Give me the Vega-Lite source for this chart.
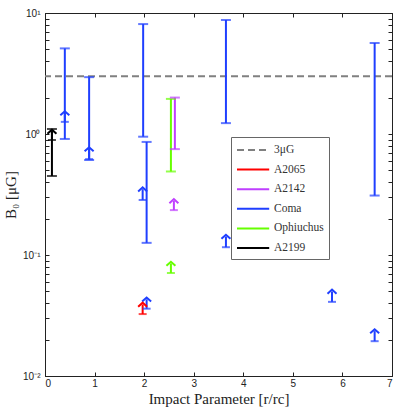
{
  "$schema": "https://vega.github.io/schema/vega-lite/v6.json",
  "width": 347,
  "height": 363,
  "autosize": {"type": "none"},
  "padding": {"left": 45, "top": 13, "right": 7, "bottom": 36},
  "background": "white",
  "config": {
    "view": {"stroke": "#222", "strokeWidth": 1},
    "axis": {
      "grid": false,
      "domainColor": "#222",
      "tickColor": "#222",
      "tickSize": -4,
      "labelFont": "Liberation Sans",
      "labelFontSize": 10,
      "labelColor": "#222",
      "titleFont": "Liberation Serif",
      "titleFontWeight": "normal",
      "titleFontSize": 15,
      "titleColor": "#222"
    }
  },
  "datasets": {
    "ref": [{"series": "3μG", "y": 3}],
    "bars": [
      {"series": "A2199", "x": 0.14, "lo": 0.45, "hi": 1.1},
      {"series": "Coma", "x": 0.4, "lo": 0.91, "hi": 5.1},
      {"series": "Coma", "x": 0.89, "lo": 0.61, "hi": 2.95},
      {"series": "Coma", "x": 1.98, "lo": 0.95, "hi": 8.1},
      {"series": "Coma", "x": 2.05, "lo": 0.126, "hi": 0.86},
      {"series": "Ophiuchus", "x": 2.54, "lo": 0.49, "hi": 1.95},
      {"series": "A2142", "x": 2.62, "lo": 0.75, "hi": 2.0},
      {"series": "Coma", "x": 3.65, "lo": 1.23, "hi": 8.75},
      {"series": "Coma", "x": 6.65, "lo": 0.31, "hi": 5.65}
    ],
    "limits": [
      {"series": "A2199", "x": 0.14, "lo": 0.89, "hi": 1.05},
      {"series": "Coma", "x": 0.4, "lo": 1.26, "hi": 1.49},
      {"series": "Coma", "x": 0.89, "lo": 0.62, "hi": 0.75},
      {"series": "Coma", "x": 1.97, "lo": 0.285, "hi": 0.35},
      {"series": "A2142", "x": 2.6, "lo": 0.235, "hi": 0.28},
      {"series": "Ophiuchus", "x": 2.54, "lo": 0.071, "hi": 0.085},
      {"series": "Coma", "x": 2.05, "lo": 0.036, "hi": 0.043},
      {"series": "A2065", "x": 1.97, "lo": 0.0325, "hi": 0.039},
      {"series": "Coma", "x": 3.65, "lo": 0.116, "hi": 0.142},
      {"series": "Coma", "x": 5.79, "lo": 0.041, "hi": 0.05},
      {"series": "Coma", "x": 6.65, "lo": 0.0194, "hi": 0.0235}
    ]
  },
  "resolve": {"axis": {"x": "independent", "y": "independent"}},
  "layer": [
    {
      "data": {"name": "ref"},
      "mark": {"type": "rule", "strokeWidth": 2},
      "encoding": {
        "y": {
          "field": "y", "type": "quantitative",
          "scale": {"type": "log", "domain": [0.01, 10], "nice": false},
          "axis": {
            "orient": "left",
            "title": "B₀ [μG]",
            "values": [0.01,0.02,0.03,0.04,0.05,0.06,0.07,0.08,0.09,0.1,0.2,0.3,0.4,0.5,0.6,0.7,0.8,0.9,1,2,3,4,5,6,7,8,9,10],
            "labelExpr": "datum.value == 10 ? '10¹' : datum.value == 1 ? '10⁰' : datum.value == 0.1 ? '10⁻¹' : datum.value == 0.01 ? '10⁻²' : ''",
            "labelOverlap": false,
            "labelPadding": 9,
            "titlePadding": 4
          }
        },
        "color": {
          "field": "series", "type": "nominal",
          "scale": {
            "domain": ["3μG", "A2065", "A2142", "Coma", "Ophiuchus", "A2199"],
            "range": ["#808080", "#ff0000", "#bf3fff", "#1f3fff", "#66ff00", "#000000"]
          },
          "legend": {
            "title": null,
            "orient": "none",
            "legendX": 186,
            "legendY": 124,
            "symbolType": "M-1,0H3.6",
            "symbolSize": 196,
            "symbolStrokeWidth": 2,
            "labelOffset": 22,
            "rowPadding": 5.6,
            "padding": 5,
            "strokeColor": "#666",
            "fillColor": "white",
            "labelFont": "Liberation Serif",
            "labelFontSize": 11.5,
            "labelColor": "#333"
          }
        },
        "strokeDash": {
          "field": "series", "type": "nominal",
          "scale": {
            "domain": ["3μG", "A2065", "A2142", "Coma", "Ophiuchus", "A2199"],
            "range": [[7, 4], [1, 0], [1, 0], [1, 0], [1, 0], [1, 0]]
          },
          "legend": {
            "title": null,
            "orient": "none",
            "legendX": 186,
            "legendY": 124,
            "symbolType": "M-1,0H3.6",
            "symbolSize": 196,
            "symbolStrokeWidth": 2,
            "labelOffset": 22,
            "rowPadding": 5.6,
            "padding": 5,
            "strokeColor": "#666",
            "fillColor": "white",
            "labelFont": "Liberation Serif",
            "labelFontSize": 11.5,
            "labelColor": "#333"
          }
        }
      }
    },
    {
      "data": {"name": "bars"},
      "mark": {"type": "rule", "strokeWidth": 2},
      "encoding": {
        "x": {
          "field": "x", "type": "quantitative",
          "scale": {"domain": [0, 7], "nice": false},
          "axis": {
            "orient": "bottom",
            "title": "Impact Parameter [r/rc]",
            "values": [0, 1, 2, 3, 4, 5, 6, 7],
            "labelPadding": 6,
            "titlePadding": 3
          }
        },
        "y": {
          "field": "lo", "type": "quantitative",
          "scale": {"type": "log", "domain": [0.01, 10], "nice": false},
          "axis": {
            "orient": "right",
            "title": null,
            "labels": false,
            "values": [0.01,0.02,0.03,0.04,0.05,0.06,0.07,0.08,0.09,0.1,0.2,0.3,0.4,0.5,0.6,0.7,0.8,0.9,1,2,3,4,5,6,7,8,9,10]
          }
        },
        "y2": {"field": "hi"},
        "color": {"field": "series", "type": "nominal", "legend": null}
      }
    },
    {
      "data": {"name": "bars"},
      "mark": {"type": "tick", "orient": "horizontal", "size": 10, "thickness": 2},
      "encoding": {
        "x": {
          "field": "x", "type": "quantitative",
          "axis": {"orient": "top", "title": null, "labels": false, "values": [0, 1, 2, 3, 4, 5, 6, 7]}
        },
        "y": {"field": "lo", "type": "quantitative", "axis": null},
        "color": {"field": "series", "type": "nominal", "legend": null}
      }
    },
    {
      "data": {"name": "bars"},
      "mark": {"type": "tick", "orient": "horizontal", "size": 10, "thickness": 2},
      "encoding": {
        "x": {"field": "x", "type": "quantitative", "axis": null},
        "y": {"field": "hi", "type": "quantitative", "axis": null},
        "color": {"field": "series", "type": "nominal", "legend": null}
      }
    },
    {
      "data": {"name": "limits"},
      "mark": {"type": "rule", "strokeWidth": 2},
      "encoding": {
        "x": {"field": "x", "type": "quantitative", "axis": null},
        "y": {"field": "lo", "type": "quantitative", "axis": null},
        "y2": {"field": "hi"},
        "color": {"field": "series", "type": "nominal", "legend": null}
      }
    },
    {
      "data": {"name": "limits"},
      "mark": {"type": "tick", "orient": "horizontal", "size": 8, "thickness": 2},
      "encoding": {
        "x": {"field": "x", "type": "quantitative", "axis": null},
        "y": {"field": "lo", "type": "quantitative", "axis": null},
        "color": {"field": "series", "type": "nominal", "legend": null}
      }
    },
    {
      "data": {"name": "limits"},
      "mark": {"type": "point", "shape": "M-1,0.5L0,-0.4L1,0.5", "size": 81, "filled": false, "strokeWidth": 2, "opacity": 1},
      "encoding": {
        "x": {"field": "x", "type": "quantitative", "axis": null},
        "y": {"field": "hi", "type": "quantitative", "axis": null},
        "color": {"field": "series", "type": "nominal", "legend": null}
      }
    }
  ]
}
